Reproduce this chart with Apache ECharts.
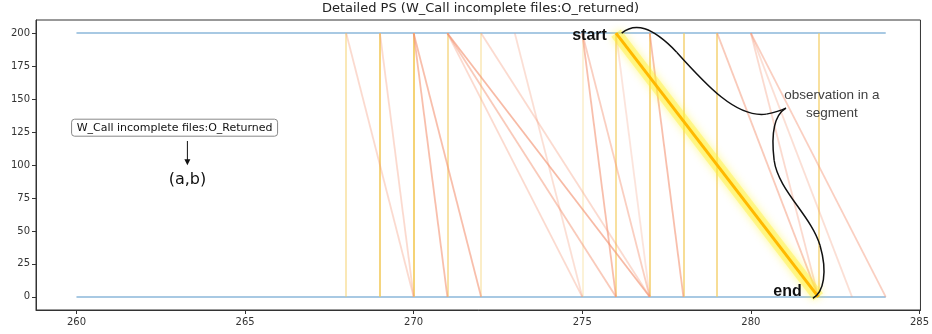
<!DOCTYPE html>
<html><head><meta charset="utf-8">
<script src="https://cdn.jsdelivr.net/npm/echarts@6/dist/echarts.min.js"></script>
<style>html,body{margin:0;padding:0;background:#fff}#c{width:932px;height:334px}</style>
</head><body><div id="c"></div>
<script>
// ---- data ----
const titleText = 'Detailed PS (W_Call incomplete files:O_returned)';
const xTicks = [260, 265, 270, 275, 280, 285];
const yTicks = [0, 25, 50, 75, 100, 125, 150, 175, 200];
const baseRange = [260, 284];
const topLevel = 200;
const bottomLevel = 0;
// vertical observations (same start and end)
const vertX = [268, 269, 270, 271, 272, 275, 276, 277, 278, 279, 282];
const vertW = [0.45, 0.8, 0.85, 0.55, 0.35, 0.25, 0.6, 0.7, 0.65, 0.65, 0.6];
// diagonal observations: start (top) -> end (bottom)
const segFrom = [268, 269, 270, 270, 271, 271, 271, 272, 273, 275, 275, 276, 277, 279, 280, 280, 280];
const segTo   = [270, 270, 271, 272, 275, 276, 277, 277, 275, 276, 277, 277, 278, 282, 282, 283, 284];
const segW    = [0.35, 0.35, 0.6, 0.6, 0.35, 0.5, 0.65, 0.35, 0.3, 0.6, 0.45, 0.25, 0.6, 0.5, 0.35, 0.3, 0.45];
// highlighted observation
const hiFrom = 276, hiTo = 282;
const boxLabel = 'W_Call incomplete files:O_Returned';
const pairLabel = '(a,b)';
const obsLabel = ['observation in a', 'segment'];

const chart = echarts.init(document.getElementById('c'), null, {renderer: 'canvas'});

const vertData = vertX.map((x, i) => ({
  coords: [[x, topLevel], [x, bottomLevel]],
  lineStyle: {color: '#f3cb5e', opacity: vertW[i], width: 2}
}));
const segData = segFrom.map((x, i) => ({
  coords: [[x, topLevel], [segTo[i], bottomLevel]],
  lineStyle: {color: '#f39575', opacity: segW[i], width: 1.8}
}));

chart.setOption({
  animation: false,
  grid: {left: 36, right: 7, top: 20, bottom: 24, show: true, borderColor: '#333', borderWidth: 1, backgroundColor: 'transparent'},
  xAxis: {
    type: 'value', min: 258.8, max: 285.03,
    axisLine: {show: true, onZero: false, lineStyle: {color: '#333'}},
    axisTick: {show: true, inside: false, length: 4, lineStyle: {color: '#333'}, customValues: xTicks},
    axisLabel: {customValues: xTicks, color: '#333', fontFamily: 'DejaVu Sans', fontSize: 10, margin: 7},
    splitLine: {show: false}
  },
  yAxis: {
    type: 'value', min: -10, max: 210,
    axisLine: {show: true, onZero: false, lineStyle: {color: '#333'}},
    axisTick: {show: true, inside: false, length: 4, lineStyle: {color: '#333'}, customValues: yTicks},
    axisLabel: {customValues: yTicks, color: '#333', fontFamily: 'DejaVu Sans', fontSize: 10, margin: 6},
    splitLine: {show: false}
  },
  series: [
    {type: 'lines', coordinateSystem: 'cartesian2d', silent: true,
     data: [
       {coords: [[baseRange[0], topLevel], [baseRange[1], topLevel]]},
       {coords: [[baseRange[0], bottomLevel], [baseRange[1], bottomLevel]]}
     ],
     lineStyle: {color: '#9fc3e0', width: 2, opacity: 0.9}},
    {type: 'lines', coordinateSystem: 'cartesian2d', silent: true, data: vertData},
    {type: 'lines', coordinateSystem: 'cartesian2d', silent: true, data: segData},
    {type: 'lines', coordinateSystem: 'cartesian2d', silent: true, z: 5,
     data: [{coords: [[hiFrom, topLevel], [hiTo, bottomLevel]]}],
     lineStyle: {color: 'rgba(255,240,60,0.45)', width: 12, opacity: 1, shadowBlur: 9, shadowColor: 'rgba(255,240,0,0.9)'}},
    {type: 'lines', coordinateSystem: 'cartesian2d', silent: true, z: 6,
     data: [{coords: [[hiFrom, topLevel], [hiTo, bottomLevel]]}],
     lineStyle: {color: '#ffb800', width: 3, opacity: 1}}
  ]
});

const P = (x, y) => chart.convertToPixel({gridIndex: 0}, [x, y]);
// brace annotation as cubic segments in data space: [start, cp1, cp2, end]
const braceParts = [
  [[276.17, 200.0], [276.56, 208.3], [277.06, 205.3], [277.80, 185.6]],
  [[277.80, 185.6], [278.68, 160.6], [279.57, 135.5], [280.46, 138.6]],
  [[280.46, 138.6], [280.75, 140.0], [280.92, 141.6], [281.04, 143.1]],
  [[281.04, 143.1], [280.69, 137.8], [280.60, 122.6], [280.69, 103.6]],
  [[280.69, 103.6], [280.81, 80.8], [281.78, 61.9], [282.05, 39.1]],
  [[282.05, 39.1], [282.28, 18.6], [282.16, 3.4], [281.84, -1.1]]
];

const box = P(262.91, 128.3);
const arrTop = P(263.29, 118.2), arrTip = P(263.29, 99.8);
const pair = P(263.29, 88.4);
const startP = P(275.73, 198.5);
const endP = P(281.51, 3.6);
const obs1 = P(282.4, 152.9), obs2 = P(282.4, 139.0);
const gridLeft = 36, gridRight = 932 - 7;

const braceGraphics = braceParts.map(seg => {
  const a = P(...seg[0]), b = P(...seg[1]), c = P(...seg[2]), d = P(...seg[3]);
  return {type: 'bezierCurve', z: 12,
    shape: {x1: a[0], y1: a[1], cpx1: b[0], cpy1: b[1], cpx2: c[0], cpy2: c[1], x2: d[0], y2: d[1]},
    style: {stroke: '#111', lineWidth: 1.5, fill: null}};
});

chart.setOption({
  graphic: [
    {type: 'text', x: (gridLeft + gridRight) / 2, y: 9, style: {text: titleText, font: '13px "DejaVu Sans"', fill: '#222', align: 'center', verticalAlign: 'middle'}},
    {type: 'rect', shape: {x: box[0] - 103, y: box[1] - 8.5, width: 206, height: 17, r: 3}, style: {fill: '#fff', stroke: '#888', lineWidth: 1}, z: 10},
    {type: 'text', x: box[0], y: box[1], z: 11, style: {text: boxLabel, font: '11px "DejaVu Sans"', fill: '#111', align: 'center', verticalAlign: 'middle'}},
    {type: 'line', shape: {x1: arrTop[0], y1: arrTop[1], x2: arrTip[0], y2: arrTip[1] - 4}, style: {stroke: '#111', lineWidth: 1}, z: 10},
    {type: 'polygon', shape: {points: [[arrTip[0] - 3, arrTip[1] - 6], [arrTip[0] + 3, arrTip[1] - 6], [arrTip[0], arrTip[1]]]}, style: {fill: '#111'}, z: 10},
    {type: 'text', x: pair[0], y: pair[1], z: 11, style: {text: pairLabel, font: '16px "DejaVu Sans"', fill: '#111', align: 'center', verticalAlign: 'middle'}},
    {type: 'text', x: startP[0], y: startP[1], z: 11, style: {text: 'start', font: 'bold 16px "Liberation Sans"', fill: '#111', align: 'right', verticalAlign: 'middle'}},
    {type: 'text', x: endP[0], y: endP[1], z: 11, style: {text: 'end', font: 'bold 16px "Liberation Sans"', fill: '#111', align: 'right', verticalAlign: 'middle'}},
    {type: 'text', x: obs1[0], y: obs1[1], z: 11, style: {text: obsLabel[0], font: '13.5px "Liberation Sans"', fill: '#404040', align: 'center', verticalAlign: 'middle'}},
    {type: 'text', x: obs2[0], y: obs2[1], z: 11, style: {text: obsLabel[1], font: '13.5px "Liberation Sans"', fill: '#404040', align: 'center', verticalAlign: 'middle'}}
  ].concat(braceGraphics)
});
</script></body></html>
